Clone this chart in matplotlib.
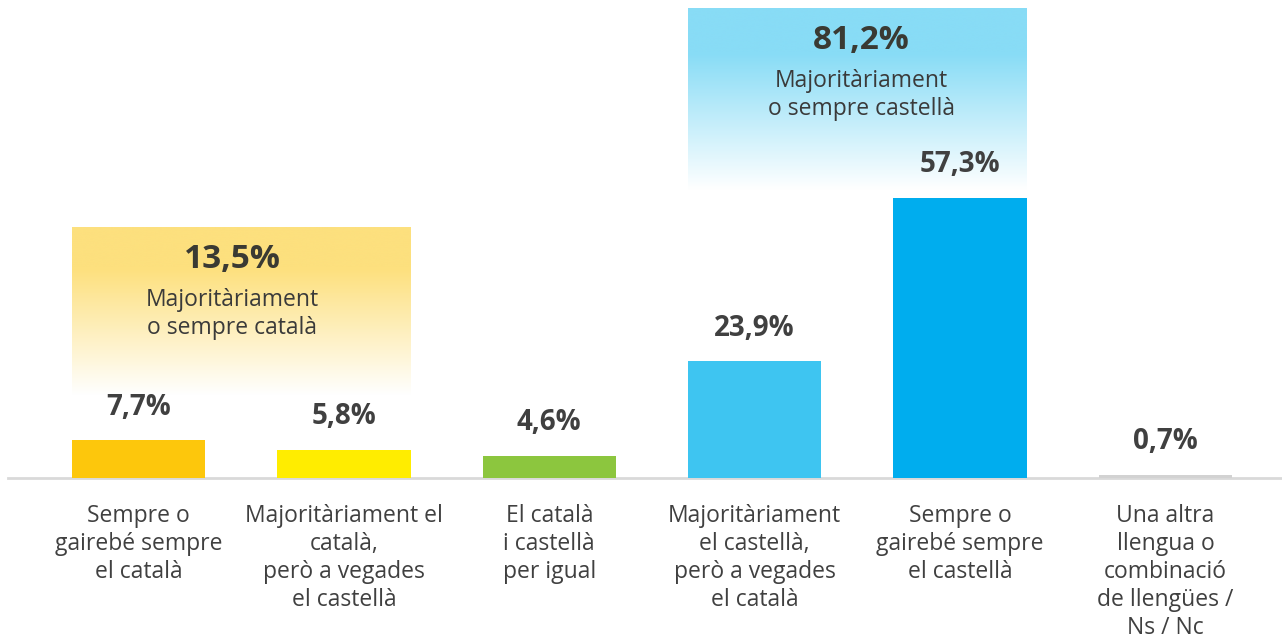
import matplotlib
matplotlib.use("Agg")
import matplotlib.pyplot as plt
import numpy as np
from matplotlib.colors import LinearSegmentedColormap

categories = [
    "Sempre o\ngairebé sempre\nel català",
    "Majoritàriament el\ncatalà,\nperò a vegades\nel castellà",
    "El català\ni castellà\nper igual",
    "Majoritàriament\nel castellà,\nperò a vegades\nel català",
    "Sempre o\ngairebé sempre\nel castellà",
    "Una altra\nllengua o\ncombinació\nde llengües /\nNs / Nc",
]
values = [7.7, 5.8, 4.6, 23.9, 57.3, 0.7]
value_labels = ["7,7%", "5,8%", "4,6%", "23,9%", "57,3%", "0,7%"]
colors = ["#fdc70c", "#ffed00", "#8cc63e", "#3ec5f1", "#00adee", "#d2d2d2"]

group_totals = ["13,5%", "81,2%"]
group_names = ["Majoritàriament\no sempre català", "Majoritàriament\no sempre castellà"]
group_members = [[0, 1], [3, 4]]
group_colors = ["#fde07e", "#88dcf6"]

FONT = ["Open Sans", "DejaVu Sans"]
plt.rcParams["font.family"] = FONT

W, H, DPI = 1282, 641, 100
fig = plt.figure(figsize=(W / DPI, H / DPI), dpi=DPI)
ax = fig.add_axes([0, 0, 1, 1])

# pixel geometry
x0_px, step_px = 138.5, 205.4
base_px, scale = 478, 4.887
ax.set_xlim(-x0_px / step_px, (W - x0_px) / step_px)
ax.set_ylim(-(H - base_px) / scale, base_px / scale)
ax.axis("off")

bw = 0.65
x = np.arange(len(values))

# gradient group boxes
box_y = [(17, 51.2), (58.9, 96.0)]
text_x = [0.455, 3.52]
for g, (members, col) in enumerate(zip(group_members, group_colors)):
    xl = x[members[0]] - bw / 2
    xr = x[members[-1]] + bw / 2
    yb, yt = box_y[g]
    cmap = LinearSegmentedColormap.from_list("g", [(0, "white"), (0.75, col), (1, col)])
    grad = np.linspace(0, 1, 256).reshape(-1, 1)
    ax.imshow(grad, extent=[xl, xr, yb, yt], origin="lower", cmap=cmap,
              aspect="auto", zorder=0, interpolation="bicubic")
    ax.annotate(group_totals[g], (text_x[g], yt), xytext=(0, -32),
                textcoords="offset pixels", ha="center", va="center",
                fontsize=24, fontweight="bold", color="#3a3a33", zorder=3)
    ax.annotate(group_names[g], (text_x[g], yt), xytext=(0, -86),
                textcoords="offset pixels", ha="center", va="center",
                fontsize=16.5, color="#3a3a3a", linespacing=1.2, zorder=3)

ax.bar(x, values, width=bw, color=colors, zorder=2)
ax.axhline(0, xmin=8 / W, xmax=1, color="#d9d9d9", lw=2, zorder=1)

for xi, v, lab in zip(x, values, value_labels):
    ax.annotate(lab, (xi, v), xytext=(0, 33), textcoords="offset pixels",
                ha="center", va="center", fontsize=20, fontweight="bold",
                color="#404040", zorder=3)

for xi, cat in zip(x, categories):
    ax.annotate(cat, (xi, 0), xytext=(0, -26), textcoords="offset pixels",
                ha="center", va="top", fontsize=16.5, color="#404040",
                linespacing=1.22)

fig.savefig("out.png", dpi=DPI)
